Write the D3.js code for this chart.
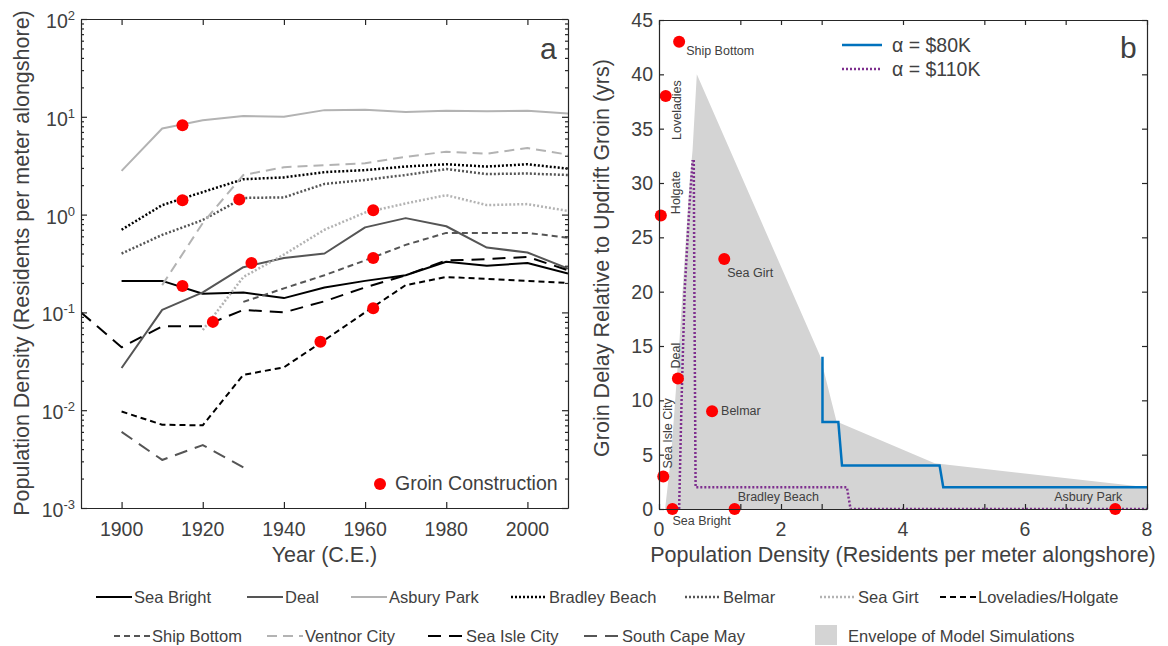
<!DOCTYPE html>
<html>
<head>
<meta charset="utf-8">
<script src="https://cdn.jsdelivr.net/npm/d3@7"></script>
<style>
  body { margin: 0; background: #fff; }
  svg text { font-family: "Liberation Sans", Arial, sans-serif; fill: #404040; }
</style>
</head>
<body>
<svg id="chart" width="1168" height="646"></svg>
<script>
// ---- Panel a: population density by decade (residents per metre alongshore) ----
const years        = [1890, 1900, 1910, 1920, 1930, 1940, 1950, 1960, 1970, 1980, 1990, 2000, 2010];
const seaBright    = [null, 0.21, 0.21, 0.155, 0.16, 0.14, 0.18, 0.21, 0.24, 0.33, 0.30, 0.32, 0.25];
const deal         = [null, 0.027, 0.106, 0.16, 0.29, 0.36, 0.40, 0.74, 0.92, 0.76, 0.46, 0.41, 0.28];
const asburyPark   = [null, 2.8, 7.6, 9.2, 10.2, 10.0, 11.7, 11.8, 11.2, 11.5, 11.4, 11.5, 10.8];
const bradleyBeach = [null, 0.70, 1.25, 1.7, 2.3, 2.4, 2.72, 2.85, 3.1, 3.27, 3.1, 3.27, 2.95];
const belmar       = [null, 0.40, 0.62, 0.88, 1.48, 1.5, 2.06, 2.26, 2.54, 2.92, 2.6, 2.63, 2.54];
const seaGirt      = [null, null, null, 0.066, 0.23, 0.39, 0.70, 1.05, 1.30, 1.58, 1.25, 1.28, 1.09];
const loveladies   = [null, 0.0097, 0.0071, 0.0070, 0.023, 0.0274, 0.052, 0.10, 0.19, 0.23, 0.22, 0.21, 0.20];
const shipBottom   = [null, null, null, null, 0.128, 0.176, 0.24, 0.34, 0.49, 0.65, 0.65, 0.65, 0.58];
const ventnorCity  = [null, null, 0.19, 0.82, 2.54, 3.05, 3.2, 3.35, 3.9, 4.4, 4.2, 4.8, 4.1];
const seaIsleCity  = [0.10, 0.044, 0.072, 0.072, 0.106, 0.10, 0.13, 0.18, 0.24, 0.34, 0.35, 0.37, 0.27];
const southCapeMay = [null, 0.0060, 0.0031, 0.0044, 0.0026, null, null, null, null, null, null, null, null];

// groin construction events (year, density at that time)
const groinYear    = [1915, 1915, 1929, 1915, 1932, 1922.5, 1962, 1962, 1962, 1949];
const groinDensity = [8.2, 1.4, 1.43, 0.186, 0.32, 0.08, 1.11, 0.36, 0.11, 0.050];

const seriesNames = ["Sea Bright", "Deal", "Asbury Park", "Bradley Beach", "Belmar", "Sea Girt",
                     "Loveladies/Holgate", "Ship Bottom", "Ventnor City", "Sea Isle City", "South Cape May"];
const seriesValues = [seaBright, deal, asburyPark, bradleyBeach, belmar, seaGirt,
                      loveladies, shipBottom, ventnorCity, seaIsleCity, southCapeMay];

const yearTicks = [1900, 1920, 1940, 1960, 1980, 2000];
const decadeTicks = [1e-3, 1e-2, 1e-1, 1e0, 1e1, 1e2];

// ---- Panel b: groin delay vs population density ----
const envelopeDensity = [0.1, 0.2, 0.33, 0.5, 0.55, 0.62, 2.64, 2.91, 4.52, 8, 8];
const envelopeDelay   = [0, 5, 15, 30, 33, 40, 14.1, 8.05, 4.2, 2, 0];
const alpha80Density  = [2.68, 2.68, 2.94, 3.0, 4.6, 4.66, 8];
const alpha80Delay    = [14, 8, 8, 4, 4, 2, 2];
const alpha110Density = [0.33, 0.37, 0.42, 0.5, 0.55, 0.57, 0.58, 0.6, 3.08, 3.14, 8];
const alpha110Delay   = [0, 10, 20, 28, 32, 32, 20, 2, 2, 0, 0];

const townNames   = ["Ship Bottom", "Loveladies", "Holgate", "Sea Girt", "Deal", "Belmar",
                     "Sea Isle City", "Sea Bright", "Bradley Beach", "Asbury Park"];
const townDensity = [0.33, 0.11, 0.03, 1.07, 0.31, 0.87, 0.07, 0.22, 1.24, 7.48];
const townDelay   = [43, 38, 27, 23, 12, 9, 3, 0, 0, 0];

const densityTicks = [0, 2, 4, 6, 8];
const delayTicks = [0, 5, 10, 15, 20, 25, 30, 35, 40, 45];

// ---------------- drawing ----------------
const svg = d3.select("#chart");
const axisColor = "#262626";
const tickFont = 19.5, titleFont = 21.5, labelFont = 19.5;

// line styles per series
const styles = {
  "Sea Bright":         { color: "#000000", dash: null,    w: 2 },
  "Deal":               { color: "#555555", dash: null,    w: 2 },
  "Asbury Park":        { color: "#b3b3b3", dash: null,    w: 2 },
  "Bradley Beach":      { color: "#000000", dash: "2,2",   w: 2.5 },
  "Belmar":             { color: "#555555", dash: "2,2",   w: 2.5 },
  "Sea Girt":           { color: "#b3b3b3", dash: "2,2",   w: 2.5 },
  "Loveladies/Holgate": { color: "#000000", dash: "6,4",   w: 2 },
  "Ship Bottom":        { color: "#555555", dash: "6,4",   w: 2 },
  "Ventnor City":       { color: "#b3b3b3", dash: "10,6",  w: 2 },
  "Sea Isle City":      { color: "#000000", dash: "13,8",  w: 2 },
  "South Cape May":     { color: "#555555", dash: "13,8",  w: 2 }
};

// ===== Panel a =====
const xA = d3.scaleLinear().domain([1890, 2010]).range([81, 568]);
const yA = d3.scaleLog().domain([1e-3, 1e2]).range([508, 19]);

const clipA = svg.append("clipPath").attr("id", "clipA");
clipA.append("rect").attr("x", 81).attr("y", 19).attr("width", 487).attr("height", 489);

const gA = svg.append("g");
const lineA = d3.line()
  .defined(d => d[1] != null)
  .x(d => xA(d[0])).y(d => yA(d[1]));

seriesNames.forEach((name, i) => {
  const st = styles[name];
  gA.append("path")
    .datum(years.map((yr, j) => [yr, seriesValues[i][j]]))
    .attr("clip-path", "url(#clipA)")
    .attr("fill", "none")
    .attr("stroke", st.color)
    .attr("stroke-width", st.w)
    .attr("stroke-dasharray", st.dash)
    .attr("stroke-linejoin", "round")
    .attr("d", lineA);
});

gA.selectAll("circle.groin")
  .data(groinYear.map((yr, i) => [yr, groinDensity[i]]))
  .join("circle")
  .attr("class", "groin")
  .attr("cx", d => xA(d[0])).attr("cy", d => yA(d[1]))
  .attr("r", 6).attr("fill", "#ff0000");

// minor log ticks
const minorTicks = [];
for (let e = -3; e < 2; e++) for (let m = 2; m <= 9; m++) minorTicks.push(m * Math.pow(10, e));

function styleAxis(g) {
  g.selectAll("path, line").attr("stroke", axisColor).attr("stroke-width", 1.2);
  g.selectAll("text").remove();
}

svg.append("g").attr("transform", "translate(0,508)")
  .call(d3.axisBottom(xA).tickValues(yearTicks).tickSizeInner(-6).tickSizeOuter(0)).call(styleAxis);
svg.append("g").attr("transform", "translate(0,19)")
  .call(d3.axisTop(xA).tickValues(yearTicks).tickSizeInner(-6).tickSizeOuter(0)).call(styleAxis);
svg.append("g").attr("transform", "translate(81,0)")
  .call(d3.axisLeft(yA).tickValues(decadeTicks).tickSizeInner(-6).tickSizeOuter(0)).call(styleAxis);
svg.append("g").attr("transform", "translate(568,0)")
  .call(d3.axisRight(yA).tickValues(decadeTicks).tickSizeInner(-6).tickSizeOuter(0)).call(styleAxis);
svg.append("g").attr("transform", "translate(81,0)")
  .call(d3.axisLeft(yA).tickValues(minorTicks).tickSizeInner(-3).tickSizeOuter(0)).call(styleAxis)
  .select(".domain").remove();
svg.append("g").attr("transform", "translate(568,0)")
  .call(d3.axisRight(yA).tickValues(minorTicks).tickSizeInner(-3).tickSizeOuter(0)).call(styleAxis)
  .select(".domain").remove();

// tick labels
gA.selectAll("text.xt").data(yearTicks).join("text")
  .attr("x", d => xA(d)).attr("y", 536).attr("text-anchor", "middle")
  .attr("font-size", tickFont).text(d => d);

decadeTicks.forEach(v => {
  const e = Math.round(Math.log10(v));
  const t = gA.append("text").attr("x", 75).attr("y", yA(v) + 9)
    .attr("text-anchor", "end").attr("font-size", tickFont);
  t.append("tspan").text("10");
  t.append("tspan").attr("font-size", 13).attr("dy", -8).text(e);
});

gA.append("text").attr("x", xA(1950)).attr("y", 562).attr("text-anchor", "middle")
  .attr("font-size", titleFont).text("Year (C.E.)");
gA.append("text").attr("transform", "translate(29,263) rotate(-90)").attr("text-anchor", "middle")
  .attr("font-size", titleFont).text("Population Density (Residents per meter alongshore)");

gA.append("text").attr("x", 540).attr("y", 59).attr("font-size", 30).attr("fill", "#262626").text("a");

// in-panel legend
gA.append("circle").attr("cx", 380).attr("cy", 484).attr("r", 6).attr("fill", "#ff0000");
gA.append("text").attr("x", 395).attr("y", 490).attr("font-size", labelFont).text("Groin Construction");

// ===== Panel b =====
const xB = d3.scaleLinear().domain([0, 8]).range([659, 1147]);
const yB = d3.scaleLinear().domain([0, 45]).range([509, 20]);
const gB = svg.append("g");

const clipB = svg.append("clipPath").attr("id", "clipB");
clipB.append("rect").attr("x", 659).attr("y", 20).attr("width", 488).attr("height", 489);

const lineB = d3.line().x(d => xB(d[0])).y(d => yB(d[1]));

gB.append("path")
  .datum(envelopeDensity.map((v, i) => [v, envelopeDelay[i]]))
  .attr("fill", "#d4d4d4").attr("stroke", "none")
  .attr("d", d => lineB(d) + "Z");

gB.append("path")
  .datum(alpha80Density.map((v, i) => [v, alpha80Delay[i]]))
  .attr("clip-path", "url(#clipB)")
  .attr("fill", "none").attr("stroke", "#0072bd").attr("stroke-width", 2.5)
  .attr("d", lineB);

gB.append("path")
  .datum(alpha110Density.map((v, i) => [v, alpha110Delay[i]]))
  .attr("clip-path", "url(#clipB)")
  .attr("fill", "none").attr("stroke", "#7e2f8e").attr("stroke-width", 2.5)
  .attr("stroke-dasharray", "2,2")
  .attr("d", lineB);

const minorDensity = [4 / 3, 8 / 3, 16 / 3, 20 / 3];
svg.append("g").attr("transform", "translate(0,509)")
  .call(d3.axisBottom(xB).tickValues(densityTicks.concat(minorDensity)).tickSizeInner(-5).tickSizeOuter(0)).call(styleAxis);
svg.append("g").attr("transform", "translate(0,20)")
  .call(d3.axisTop(xB).tickValues(densityTicks.concat(minorDensity)).tickSizeInner(-5).tickSizeOuter(0)).call(styleAxis);
svg.append("g").attr("transform", "translate(659,0)")
  .call(d3.axisLeft(yB).tickValues(delayTicks).tickSizeInner(-5).tickSizeOuter(0)).call(styleAxis);
svg.append("g").attr("transform", "translate(1147,0)")
  .call(d3.axisRight(yB).tickValues(delayTicks).tickSizeInner(-5).tickSizeOuter(0)).call(styleAxis);

// town markers and labels
const labelPlace = [
  { dx: 7,   dy: 13,  rot: 0, anchor: "start" },
  { dx: 15,  dy: 14,  rot: -90, anchor: "middle" },
  { dx: 19,  dy: -23, rot: -90, anchor: "middle" },
  { dx: 3,   dy: 18,  rot: 0, anchor: "start" },
  { dx: 2,   dy: -23, rot: -90, anchor: "middle" },
  { dx: 9,   dy: 4,   rot: 0, anchor: "start" },
  { dx: 9,   dy: -43, rot: -90, anchor: "middle" },
  { dx: 0,   dy: 16,  rot: 0, anchor: "start" },
  { dx: 3,   dy: -8,  rot: 0, anchor: "start" },
  { dx: 7,   dy: -8,  rot: 0, anchor: "end" }
];
townNames.forEach((name, i) => {
  const cx = xB(townDensity[i]), cy = yB(townDelay[i]);
  gB.append("circle").attr("cx", cx).attr("cy", cy).attr("r", 6).attr("fill", "#ff0000");
  const p = labelPlace[i];
  gB.append("text")
    .attr("transform", `translate(${cx + p.dx},${cy + p.dy}) rotate(${p.rot})`)
    .attr("text-anchor", p.anchor).attr("font-size", 12.5).attr("fill", "#262626")
    .text(name);
});

gB.selectAll("text.xt").data(densityTicks).join("text")
  .attr("x", d => xB(d)).attr("y", 536).attr("text-anchor", "middle")
  .attr("font-size", tickFont).text(d => d);
gB.selectAll("text.yt").data(delayTicks).join("text")
  .attr("x", 653).attr("y", d => yB(d) + 7).attr("text-anchor", "end")
  .attr("font-size", tickFont).text(d => d);

gB.append("text").attr("x", xB(4)).attr("y", 562).attr("text-anchor", "middle")
  .attr("font-size", titleFont).text("Population Density (Residents per meter alongshore)");
gB.append("text").attr("transform", "translate(609,258) rotate(-90)").attr("text-anchor", "middle")
  .attr("font-size", titleFont).text("Groin Delay Relative to Updrift Groin (yrs)");
gB.append("text").attr("x", 1120).attr("y", 58).attr("font-size", 30).attr("fill", "#262626").text("b");

// alpha legend
[["α = $80K", "#0072bd", null, 45], ["α = $110K", "#7e2f8e", "2,2", 69]].forEach(([label, c, dash, y]) => {
  gB.append("line").attr("x1", 842).attr("x2", 882).attr("y1", y).attr("y2", y)
    .attr("stroke", c).attr("stroke-width", 2.5).attr("stroke-dasharray", dash);
  gB.append("text").attr("x", 892).attr("y", y + 7).attr("font-size", labelFont).text(label);
});

// ===== bottom legend =====
const legendSlots = [
  [96, 603], [247, 603], [351, 603], [511, 603], [685, 603], [820, 603], [940, 603],
  [114, 642], [267, 642], [428, 642], [584, 642]
];
const gL = svg.append("g");
seriesNames.forEach((name, i) => {
  const st = styles[name];
  const [lx, ly] = legendSlots[i];
  gL.append("line").attr("x1", lx).attr("x2", lx + 36).attr("y1", ly - 6).attr("y2", ly - 6)
    .attr("stroke", st.color).attr("stroke-width", st.w).attr("stroke-dasharray", st.dash);
  gL.append("text").attr("x", lx + 38).attr("y", ly).attr("font-size", 16.5).text(name);
});
gL.append("rect").attr("x", 815).attr("y", 625).attr("width", 22).attr("height", 20).attr("fill", "#d4d4d4");
gL.append("text").attr("x", 848).attr("y", 642).attr("font-size", 16.5).text("Envelope of Model Simulations");
</script>
</body>
</html>
